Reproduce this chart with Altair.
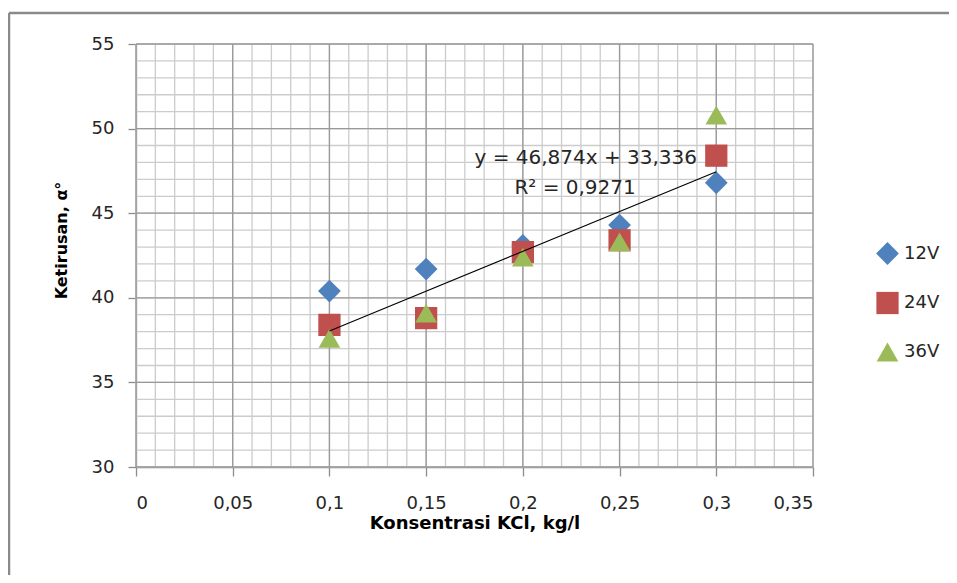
import altair as alt
import pandas as pd

# ---- data ----
conc = [0.1, 0.15, 0.2, 0.25, 0.3]
v12 = [40.4, 41.7, 43.1, 44.3, 46.8]
v24 = [38.4, 38.8, 42.7, 43.4, 48.4]
v36 = [37.6, 39.1, 42.4, 43.3, 50.8]
series_names = ["12V", "24V", "36V"]
series_colors = ["#4F81BD", "#C0504D", "#9BBB59"]
series_shapes = ["diamond", "square", "triangle-up"]
series_sizes = [520, 470, 470]

x_major = [0, 0.05, 0.1, 0.15, 0.2, 0.25, 0.3, 0.35]
x_minor = [i / 100 for i in range(36)]
y_major = [30, 35, 40, 45, 50, 55]
y_minor = list(range(30, 56))

eq_text = "y = 46,874x + 33,336"
r2_text = "R² = 0,9271"

rows = []
for name, vals in zip(series_names, [v12, v24, v36]):
    for c, v in zip(conc, vals):
        rows.append({"x": c, "y": v, "series": name})
df = pd.DataFrame(rows)

FONT = "DejaVu Sans"
TXT = "#262626"

x_scale = alt.Scale(domain=[0, 0.35], nice=False, zero=False)
y_scale = alt.Scale(domain=[30, 55], nice=False, zero=False)

x_axis = alt.Axis(
    values=x_major, grid=False, title="Konsentrasi  KCl, kg/l",
    labelExpr="replace('' + datum.value, '.', ',')",
    labelFont=FONT, labelFontSize=18, labelColor=TXT, labelPadding=18,
    titleFont=FONT, titleFontSize=18, titleFontWeight="bold", titleColor="#000",
    titlePadding=2, tickSize=9, tickColor="#8c8c8c", domainColor="#8c8c8c",
    domainWidth=1.3, tickWidth=1.3,
)
y_axis = alt.Axis(
    values=y_major, grid=False, title="Ketirusan, α°",
    labelFont=FONT, labelFontSize=18, labelColor=TXT, labelPadding=14,
    titleFont=FONT, titleFontSize=16, titleFontWeight="bold", titleColor="#000",
    titleX=-67, titleY=196, tickSize=8, tickColor="#8c8c8c",
    domainColor="#8c8c8c", domainWidth=1.3, tickWidth=1.3,
)

X = lambda: alt.X("v:Q", scale=x_scale, axis=x_axis)
Y = lambda: alt.Y("v:Q", scale=y_scale, axis=y_axis)

minor_x = alt.Chart(pd.DataFrame({"v": x_minor})).mark_rule(
    color="#cccccc", strokeWidth=1.3).encode(x=X())
minor_y = alt.Chart(pd.DataFrame({"v": y_minor})).mark_rule(
    color="#cccccc", strokeWidth=1.3).encode(y=Y())
major_x = alt.Chart(pd.DataFrame({"v": x_major})).mark_rule(
    color="#999999", strokeWidth=1.3).encode(x=X())
major_y = alt.Chart(pd.DataFrame({"v": y_major})).mark_rule(
    color="#999999", strokeWidth=1.3).encode(y=Y())

one = pd.DataFrame({"a": [0]})
frame_top = alt.Chart(one).mark_rule(color="#8a8a8a", strokeWidth=2.5).encode(
    x=alt.value(-127), x2=alt.value(2000), y=alt.value(-31))
frame_left = alt.Chart(one).mark_rule(color="#8a8a8a", strokeWidth=2.5).encode(
    x=alt.value(-127), y=alt.value(-31), y2=alt.value(2000))

base = alt.Chart(df)
points = base.mark_point(filled=True, opacity=1).encode(
    x=alt.X("x:Q", scale=x_scale, axis=x_axis),
    y=alt.Y("y:Q", scale=y_scale, axis=y_axis),
    color=alt.Color("series:N", scale=alt.Scale(domain=series_names, range=series_colors),
                    legend=alt.Legend(title=None, orient="none", legendX=740, legendY=198,
                                      labelFont=FONT, labelFontSize=18, labelColor=TXT,
                                      symbolSize=250, rowPadding=26.5, labelOffset=5,
                                      symbolStrokeWidth=0)),
    shape=alt.Shape("series:N", scale=alt.Scale(domain=series_names, range=series_shapes)),
    size=alt.Size("series:N", scale=alt.Scale(domain=series_names, range=series_sizes), legend=None),
)

trend = base.transform_regression("x", "y", method="linear", extent=[0.1, 0.3]).mark_line(
    color="#000", strokeWidth=1.1
).encode(
    x=alt.X("x:Q", scale=x_scale, axis=x_axis),
    y=alt.Y("y:Q", scale=y_scale, axis=y_axis),
)

eq = alt.Chart(pd.DataFrame({"t": [eq_text]})).mark_text(
    font=FONT, fontSize=20, color=TXT, align="center", baseline="middle"
).encode(x=alt.datum(0.2325, scale=x_scale), y=alt.datum(48.26, scale=y_scale), text="t:N")
r2 = alt.Chart(pd.DataFrame({"t": [r2_text]})).mark_text(
    font=FONT, fontSize=20, color=TXT, align="center", baseline="middle"
).encode(x=alt.datum(0.227, scale=x_scale), y=alt.datum(46.5, scale=y_scale), text="t:N")

chart = alt.layer(
    minor_x, minor_y, major_x, major_y, frame_top, frame_left, points, trend, eq, r2
).properties(
    width=677, height=423,
    autosize=alt.AutoSizeParams(type="none"),
    padding={"left": 128, "top": 36, "right": 136, "bottom": 108},
    background="white",
).configure_view(stroke=None)

chart.save("out.html", embed_options={"renderer": "svg", "actions": False})
